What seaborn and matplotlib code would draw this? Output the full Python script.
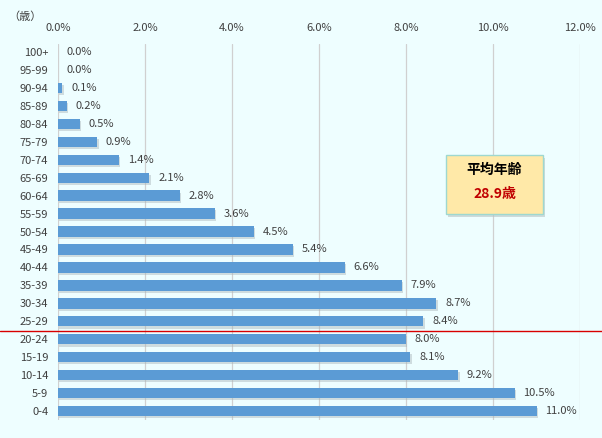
import matplotlib
matplotlib.use("Agg")
import matplotlib.pyplot as plt
import matplotlib.patheffects as pe
from matplotlib.lines import Line2D
from matplotlib.patches import FancyBboxPatch
import seaborn as sns
import pandas as pd

sns.set_theme(style="white")
plt.rcParams['font.family'] = ['Noto Sans CJK JP', 'DejaVu Sans']

age_groups = ["100+", "95-99", "90-94", "85-89", "80-84", "75-79", "70-74", "65-69",
              "60-64", "55-59", "50-54", "45-49", "40-44", "35-39", "30-34", "25-29",
              "20-24", "15-19", "10-14", "5-9", "0-4"]
share = [0.0, 0.0, 0.1, 0.2, 0.5, 0.9, 1.4, 2.1, 2.8, 3.6, 4.5, 5.4, 6.6, 7.9, 8.7, 8.4,
         8.0, 8.1, 9.2, 10.5, 11.0]
x_ticks = [0, 2, 4, 6, 8, 10, 12]

df = pd.DataFrame({"age": age_groups, "share": share})

bg = "#EEFEFF"
fig = plt.figure(figsize=(6.02, 4.38), dpi=100, facecolor=bg)
ax = fig.add_axes([58/602, 1-420/438, (580-58)/602, (420-44)/438])
ax.set_facecolor(bg)

sns.barplot(data=df, x="share", y="age", color="#5B9BD5", saturation=1, width=0.58,
            linewidth=0, ax=ax, zorder=3)
for p in ax.patches:
    p.set_path_effects([pe.SimplePatchShadow(offset=(1, -1.5), shadow_rgbFace="#A8B4B8", alpha=0.45),
                        pe.Normal()])

ax.set_xlim(0, 12)
ax.set_ylim(20.5, -0.45)
ax.set_xticks(x_ticks)
ax.set_xticklabels([f"{t:.1f}%" for t in x_ticks], fontsize=8, color="#404040")
ax.xaxis.tick_top()
ax.tick_params(axis="x", length=0, pad=8)
ax.tick_params(axis="y", length=0, pad=7, labelsize=8, labelcolor="#404040")
ax.grid(axis="x", color="#D0D0D0", linewidth=0.9, zorder=0)
for s in ax.spines.values():
    s.set_visible(False)
ax.set_xlabel("")
ax.set_ylabel("")

for i, v in enumerate(share):
    ax.text(v + 0.2, i, f"{v:.1f}%", va="center", ha="left", fontsize=8, color="#404040")

fig.text(8/602, 1-17/438, "（歳）", fontsize=8, color="#404040", va="center", ha="left")

# red divider line across the whole figure
fig.add_artist(Line2D([0, 1], [1-330.5/438, 1-330.5/438], color="#D80000", linewidth=1.0))

# average age box
bx, by, bw, bh = 446/602, 1-214/438, 97/602, 59/438
shadow = FancyBboxPatch((bx+0.004, by-0.006), bw, bh, boxstyle="square,pad=0",
                        transform=fig.transFigure, facecolor="#B8C4C4", edgecolor="none", alpha=0.6)
box = FancyBboxPatch((bx, by), bw, bh, boxstyle="square,pad=0", transform=fig.transFigure,
                     facecolor="#FFE9A8", edgecolor="#9ED8D0", linewidth=1.0)
fig.add_artist(shadow)
fig.add_artist(box)
fig.text(bx + bw/2, 1-170/438, "平均年齢", fontsize=10, fontweight="bold", color="black",
         ha="center", va="center")
fig.text(bx + bw/2, 1-194/438, "28.9歳", fontsize=10, fontweight="bold", color="#C00000",
         ha="center", va="center")

plt.savefig("out.png", dpi=100, facecolor=bg)
